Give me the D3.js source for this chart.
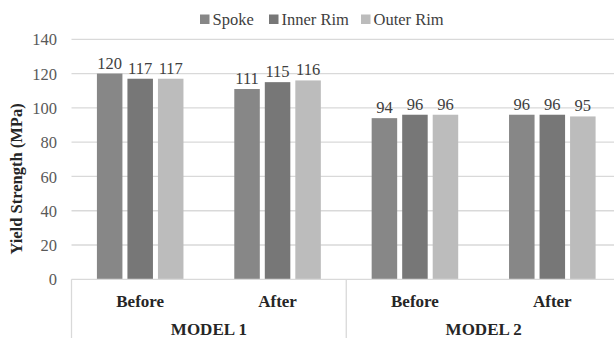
<!DOCTYPE html>
<html><head><meta charset="utf-8"><script src="https://cdn.jsdelivr.net/npm/d3@7"></script></head>
<body style="margin:0">
<svg id="chart" width="614" height="338"></svg>
<script>
// Yield strength per location, before/after, for two wheel models
const models = ["MODEL 1", "MODEL 2"];
const stages = ["Before", "After"];
const series = ["Spoke", "Inner Rim", "Outer Rim"];
const colors = ["#878787", "#777777", "#bcbcbc"];
const spoke    = [120, 111, 94, 96];
const innerRim = [117, 115, 96, 96];
const outerRim = [117, 116, 96, 95];
const yTicks = [0, 20, 40, 60, 80, 100, 120, 140];

const FONT = '"Liberation Serif", monospace';
const values = [spoke, innerRim, outerRim];
const groups = [];
models.forEach((m, mi) => stages.forEach((s, si) => groups.push({ model: m, stage: s, key: m + "|" + s, idx: mi * 2 + si })));

const svg = d3.select("#chart");
const plotLeft = 71.5, plotRight = 621, plotTop = 39.3, plotBottom = 279.3;

const x0 = d3.scaleBand().domain(groups.map(g => g.key)).range([plotLeft, plotRight])
  .paddingInner(0.37).paddingOuter(0.185);
const x1 = d3.scaleBand().domain(series).range([0, x0.bandwidth()]).paddingInner(0.164).paddingOuter(0);
const y = d3.scaleLinear().domain([0, 140]).range([plotBottom, plotTop]);

// horizontal gridlines
svg.append("g").selectAll("line").data(yTicks.filter(t => t > 0)).join("line")
  .attr("x1", plotLeft).attr("x2", plotRight)
  .attr("y1", d => y(d)).attr("y2", d => y(d))
  .attr("stroke", "#d9d9d9").attr("stroke-width", 1.3);

// y axis tick labels
const yAxis = d3.axisLeft(y).tickValues(yTicks).tickSize(0).tickPadding(0);
const gy = svg.append("g").attr("transform", `translate(${plotLeft - 14.5},0)`).call(yAxis);
gy.select(".domain").remove();
gy.selectAll("text").style("font-family", FONT).attr("font-size", 16.5)
  .attr("fill", "#595959").attr("dy", "0.34em");

// y axis title
svg.append("text")
  .attr("transform", `translate(22,179) rotate(-90)`)
  .attr("text-anchor", "middle").style("font-family", FONT)
  .attr("font-weight", "bold").attr("font-size", 16.5).attr("fill", "#262626")
  .text("Yield Strength (MPa)");

// bars and value labels
const gGroups = svg.append("g").selectAll("g").data(groups).join("g")
  .attr("transform", d => `translate(${x0(d.key)},0)`);

gGroups.selectAll("rect").data(g => series.map((s, si) => ({ s, si, v: values[si][g.idx] }))).join("rect")
  .attr("x", d => x1(d.s)).attr("width", x1.bandwidth())
  .attr("y", d => y(d.v)).attr("height", d => y(0) - y(d.v))
  .attr("fill", d => colors[d.si]);

gGroups.selectAll("text.val").data(g => series.map((s, si) => ({ s, si, v: values[si][g.idx] }))).join("text")
  .attr("class", "val")
  .attr("x", d => x1(d.s) + x1.bandwidth() / 2)
  .attr("y", d => y(d.v) - 5)
  .attr("text-anchor", "middle").style("font-family", FONT)
  .attr("font-size", 16.5).attr("fill", "#404040")
  .text(d => d.v);

// category axis: baseline and separators
svg.append("line").attr("x1", plotLeft).attr("x2", plotRight).attr("y1", plotBottom).attr("y2", plotBottom)
  .attr("stroke", "#d9d9d9").attr("stroke-width", 1.3);
const modelEdges = [plotLeft, x0(groups[2].key) - x0.step() * x0.paddingInner() / 2, plotRight];
svg.append("g").selectAll("line").data(modelEdges).join("line")
  .attr("x1", d => d).attr("x2", d => d).attr("y1", plotBottom).attr("y2", 338)
  .attr("stroke", "#d9d9d9").attr("stroke-width", 1.3);

// stage labels
svg.append("g").selectAll("text").data(groups).join("text")
  .attr("x", d => x0(d.key) + x0.bandwidth() / 2).attr("y", 307)
  .attr("text-anchor", "middle").style("font-family", FONT)
  .attr("font-weight", "bold").attr("font-size", 17).attr("fill", "#262626")
  .text(d => d.stage);

// model labels
svg.append("g").selectAll("text").data(models).join("text")
  .attr("x", (d, i) => (modelEdges[i] + modelEdges[i + 1]) / 2).attr("y", 335)
  .attr("text-anchor", "middle").style("font-family", FONT)
  .attr("font-weight", "bold").attr("font-size", 17).attr("fill", "#262626")
  .text(d => d);

// legend
const legendX = [200, 269, 361];
const lg = svg.append("g").selectAll("g").data(series).join("g")
  .attr("transform", (d, i) => `translate(${legendX[i]},0)`);
lg.append("rect").attr("x", 0).attr("y", 14.5).attr("width", 9.5).attr("height", 9.5)
  .attr("fill", (d, i) => colors[i]);
lg.append("text").attr("x", 12.5).attr("y", 24.5).style("font-family", FONT)
  .attr("font-size", 16.5).attr("fill", "#404040")
  .text(d => d);
</script>
</body>
</html>
